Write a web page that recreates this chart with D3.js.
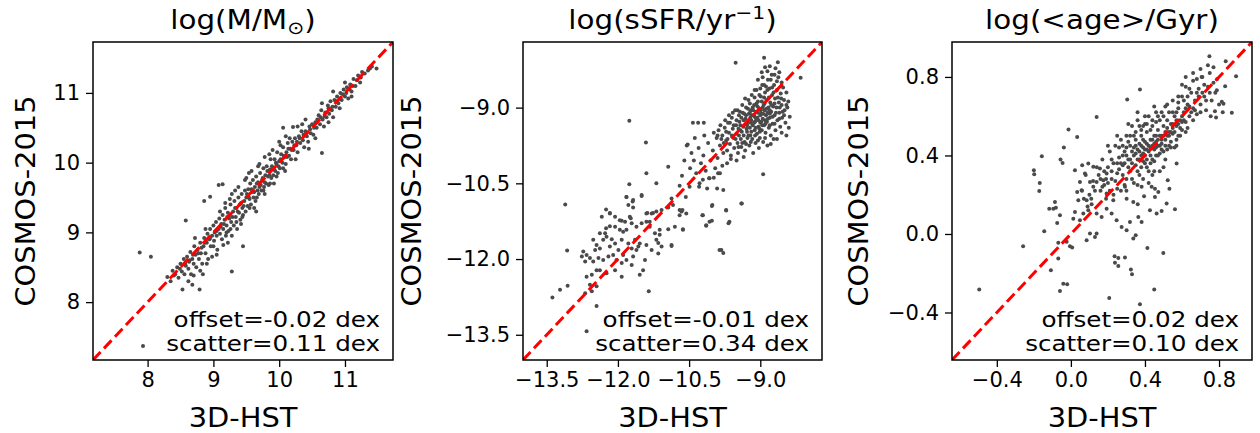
<!DOCTYPE html>
<html><head><meta charset="utf-8">
<script src="https://cdn.jsdelivr.net/npm/d3@7"></script>
<style>
body{margin:0;background:#fff;}
text{font-family:"DejaVu Sans",sans-serif;fill:#000;}
</style></head>
<body><svg id="c" width="1260" height="433"></svg>
<script>
// ---------- data ----------
const titles = ["log(M/M", "log(sSFR/yr", "log(<age>/Gyr)"];
const xLabel = "3D-HST";
const yLabel = "COSMOS-2015";
const domains = [[7.17, 11.73], [-14.0, -7.70], [-0.642, 0.978]];
const tickVals = [[8, 9, 10, 11], [-13.5, -12.0, -10.5, -9.0], [-0.4, 0.0, 0.4, 0.8]];
const offsets = ["offset=-0.02 dex", "offset=-0.01 dex", "offset=0.02 dex"];
const scatters = ["scatter=0.11 dex", "scatter=0.34 dex", "scatter=0.10 dex"];

const massPts = [
[7.88,8.71],[8.05,8.65],[7.93,7.37],[8.58,9.17],[9.28,8.44],[9.45,8.80],[8.53,8.18],[8.79,8.18],[8.86,9.45],[8.95,9.51],[9.08,9.68],[9.14,9.69],[10.06,10.50],[10.21,10.51],[10.65,10.14],[11.48,11.35],[11.41,11.38],
[8.30,8.36],[8.35,8.30],[8.38,8.45],[8.42,8.40],[8.45,8.50],[8.47,8.35],[8.50,8.55],[8.52,8.44],[8.55,8.62],[8.56,8.40],[8.58,8.52],[8.60,8.65],[8.62,8.48],[8.63,8.58],[8.65,8.72],[8.66,8.40],[8.68,8.62],[8.70,8.55],[8.71,8.80],[8.73,8.68],[8.74,8.50],[8.76,8.75],[8.78,8.62],[8.80,8.85],[8.81,8.70],[8.83,8.55],[8.85,8.80],[8.86,8.92],[8.88,8.70],[8.90,8.85],
[8.91,8.98],[8.92,8.62],[8.94,8.90],[8.95,9.05],[8.96,8.80],[8.98,8.95],[9.00,9.10],[9.01,8.88],[9.02,9.00],[9.04,9.15],[9.05,8.95],[9.06,8.75],[9.08,9.05],[9.09,9.20],[9.10,8.98],[9.12,9.12],[9.13,8.90],[9.14,9.25],[9.15,9.05],[9.17,9.18],[9.18,9.35],[9.19,8.95],[9.20,9.10],[9.22,9.28],[9.23,9.02],[9.24,9.20],[9.26,9.40],[9.27,9.15],[9.28,8.95],[9.30,9.30],[9.31,9.10],[9.32,9.45],[9.34,9.22],[9.35,9.35],[9.36,9.05],[9.38,9.50],[9.39,9.28],[9.40,9.40],[9.41,9.18],[9.43,9.55],[9.44,9.35],[9.45,9.25],[9.47,9.45],[9.48,9.60],[9.49,9.30],[9.50,9.50],
[9.52,9.38],[9.53,9.62],[9.55,9.48],[9.56,9.70],[9.57,9.40],[9.59,9.58],[9.60,9.75],[9.61,9.50],[9.63,9.65],[9.64,9.45],[9.65,9.80],[9.67,9.60],[9.68,9.72],[9.69,9.55],[9.71,9.85],[9.72,9.68],[9.73,9.60],[9.75,9.78],[9.76,9.92],[9.77,9.65],[9.79,9.82],[9.80,9.70],[9.81,9.95],[9.83,9.80],[9.84,9.68],[9.86,9.90],[9.87,10.05],[9.88,9.78],[9.90,9.92],[9.91,9.82],[9.93,10.05],[9.94,9.88],[9.96,9.98],[9.97,10.15],[9.98,9.85],[10.00,10.02],[10.01,9.92],[10.03,10.12],[10.05,10.00],[10.06,10.22],[10.08,10.08],[10.10,9.98],[10.11,10.15],[10.13,10.28],[10.15,10.10],[10.17,10.20],[10.18,10.05],
[10.20,10.30],[10.22,10.18],[10.24,10.35],[10.26,10.25],[10.28,10.15],[10.30,10.38],[10.32,10.28],[10.34,10.45],[10.36,10.32],[10.38,10.22],[10.40,10.45],[10.42,10.38],[10.44,10.30],[10.46,10.52],[10.48,10.42],[10.50,10.55],[10.52,10.40],[10.55,10.58],[10.57,10.50],[10.60,10.68],[10.62,10.55],[10.64,10.75],[10.66,10.62],[10.68,10.52],[10.70,10.72],[10.72,10.65],[10.74,10.82],[10.76,10.70],[10.78,10.88],[10.80,10.75],[10.82,10.65],[10.84,10.90],[10.86,10.80],[10.88,10.95],[10.90,10.85],[10.93,11.00],[10.95,10.90],[10.98,11.05],[11.00,10.95],[11.03,11.08],[11.05,10.92],[11.08,11.12],[11.10,11.02],[11.13,11.20],[11.16,11.10],[11.20,11.25],[11.23,11.15],[11.26,11.30],[11.30,11.28],[11.35,11.32],[11.38,11.35],
[9.10,9.30],[9.20,9.00],[9.33,9.60],[9.42,9.12],[9.54,9.85],[9.62,9.35],[9.70,9.98],[9.78,9.55],[9.85,10.12],[9.92,9.70],[10.02,10.25],[10.09,9.88],[10.16,10.35],[10.25,10.05],[10.35,10.55],[10.45,10.20],[9.00,8.80],[8.88,9.05],[8.72,8.92],[9.25,9.48],
[9.05,9.02],[9.11,9.08],[9.16,9.12],[9.21,9.22],[9.25,9.25],[9.29,9.22],[9.33,9.35],[9.37,9.30],[9.42,9.42],[9.46,9.38],[9.51,9.55],[9.54,9.50],[9.58,9.62],[9.62,9.58],[9.66,9.70],[9.70,9.65],[9.74,9.75],[9.78,9.72],[9.82,9.88],[9.85,9.82],[9.89,9.95],[9.92,9.90],[9.95,10.00],[9.99,9.95],[10.02,10.05],[10.07,10.10],[10.12,10.08],[10.14,10.20],[10.19,10.18],[10.23,10.25],[10.27,10.30],[10.31,10.35],[10.37,10.40],[10.41,10.42],[10.47,10.48],[10.53,10.50],[10.58,10.62],[10.63,10.65],[10.69,10.66],[10.75,10.78],[10.81,10.80],[10.87,10.88],[10.92,10.92],[10.97,10.98],[11.02,11.00],[11.07,11.05],[11.12,11.10],[11.18,11.18],[11.24,11.22],[8.95,8.92],[8.87,8.85],[8.82,8.78],[8.77,8.70],[8.69,8.68],[8.64,8.60],[8.57,8.55],[8.49,8.48],[8.40,8.38],[9.26,9.05],[9.35,9.15],[9.44,9.22],[9.55,9.35],[9.66,9.50],[9.76,9.60],[9.86,9.70],[9.96,9.80],[10.06,9.92],[9.18,9.42],[9.28,9.55],[9.38,9.65],[9.48,9.75],[9.58,9.88],[9.68,9.95],[9.78,10.08],[9.90,10.18],[10.00,10.30],[10.10,10.38],[8.62,8.30],[8.70,8.38],[8.68,8.25],[8.80,8.45],[8.84,8.40],[8.90,8.55],[8.98,8.65],[9.05,8.68],[9.15,8.82],[9.22,8.85],[10.55,10.35],[10.75,10.58],[10.92,10.78],[11.10,10.95],[10.65,10.85],[10.82,11.02],[11.00,11.15],[10.40,10.62],[10.28,10.52],[9.50,9.78],[9.65,9.30]
];

const ssfrPts = [
[-9.52,-8.11],[-8.92,-8.01],[-8.63,-8.10],[-8.15,-8.41],[-11.76,-9.26],[-11.41,-9.69],[-8.94,-10.32],[-9.39,-10.90],[-13.11,-10.92],[-13.38,-12.76],[-13.22,-12.61],[-13.06,-12.53],[-12.66,-13.43],[-12.45,-12.93],[-11.35,-12.64],[-9.82,-11.82],[-9.78,-11.88],[-13.07,-11.83],[-10.42,-9.30],[-10.31,-9.30],[-10.19,-9.30],[-10.53,-9.73],[-10.94,-10.17],[-11.40,-10.30],[-11.19,-10.50],[-11.76,-10.52],[-11.82,-10.77],[-11.69,-10.86],[-11.50,-10.75],[-12.17,-11.09],[-11.92,-11.24],[-11.73,-11.19],[-11.38,-11.09],[-11.26,-11.09],[-11.33,-11.26],[-11.12,-11.42],[-11.15,-11.68],[-10.87,-11.74],[-10.94,-11.41],[-10.80,-11.36],[-10.63,-11.41],[-10.70,-11.03],[-10.66,-11.06],[-10.57,-10.77],[-10.49,-10.57],[-10.21,-11.13],[-10.14,-11.34],[-10.02,-10.95],[-10.02,-11.24],[-9.72,-11.04],[-9.67,-11.29],[-10.29,-10.57],[-10.21,-10.43],[-10.07,-10.40],[-9.98,-10.39],[-9.89,-10.30],[-9.91,-10.60],[-9.78,-10.63],
[-12.52,-11.62],[-12.45,-11.72],[-12.38,-11.79],[-12.48,-11.82],[-12.31,-11.62],[-12.24,-11.56],[-12.13,-11.61],[-12.17,-11.75],[-12.06,-11.69],[-11.99,-11.82],[-11.92,-11.62],[-11.89,-11.46],[-11.82,-11.42],[-11.96,-11.42],[-12.06,-11.36],[-12.17,-11.35],[-12.25,-11.39],[-12.38,-11.49],[-12.27,-11.49],[-12.73,-11.85],[-12.66,-11.92],[-12.59,-11.98],[-12.76,-11.95],[-12.69,-12.05],[-12.52,-12.05],[-12.41,-11.98],[-12.31,-12.02],[-12.20,-11.95],[-12.10,-11.92],[-12.03,-12.02],[-11.92,-12.08],[-11.82,-12.02],[-11.89,-11.92],[-11.68,-11.95],[-11.61,-11.82],[-11.57,-11.75],[-11.71,-11.79],[-11.78,-11.69],[-11.64,-11.62],[-11.54,-11.69],[-11.40,-11.72],[-11.29,-11.82],[-11.19,-11.62],[-11.12,-11.52],[-11.22,-11.49],[-11.33,-11.36],[-11.40,-11.26],[-11.50,-11.29],[-11.61,-11.36],[-11.71,-11.29],[-11.75,-11.16],[-11.85,-11.26],[-11.96,-11.23],[-12.06,-11.16],[-12.17,-11.10],[-12.34,-11.16],[-12.25,-11.02],[-11.68,-10.98],[-11.78,-10.93],[-11.82,-10.77],[-11.68,-10.83],[-11.50,-10.73],[-11.40,-11.10],[-11.29,-11.10],[-11.19,-11.06],[-11.08,-11.03],[-10.94,-10.98],[-10.84,-10.93],[-10.87,-10.80],[-10.64,-11.03],[-10.56,-11.10],[-10.70,-11.13],[-10.63,-11.42],[-10.87,-11.72],[-11.08,-11.75],[-11.15,-11.89],[-11.47,-12.22],[-11.54,-12.31],[-11.92,-12.35],[-12.06,-12.22],[-12.24,-12.28],[-12.38,-12.22],[-12.55,-12.31],[-12.66,-12.35],[-9.86,-11.82],[-10.07,-11.26],[-10.14,-11.33],[-10.22,-11.13],[-10.01,-10.93],[-9.65,-11.26],[-9.72,-11.03],[-9.40,-10.90],[-11.43,-12.02],[-11.71,-12.12],[-12.45,-12.22],[-12.59,-12.51],[-12.45,-12.54],[-12.69,-12.68],[-12.55,-12.64],
[-10.55,-9.75],[-10.45,-9.90],[-10.40,-10.05],[-10.30,-9.80],[-10.25,-10.10],[-10.20,-9.95],[-10.15,-10.25],[-10.10,-9.70],[-10.05,-10.05],[-10.00,-9.85],[-9.95,-10.20],[-9.92,-9.60],[-9.90,-10.00],[-9.88,-9.45],[-9.85,-10.30],[-10.35,-10.30],[-10.28,-10.50],[-10.48,-10.20],[-10.60,-10.05],[-10.08,-10.40],[-10.18,-9.55],[-9.98,-9.50],[-10.12,-10.60],[-10.38,-9.60],[-10.65,-10.35],[-10.70,-10.55],
[-9.85,-9.75],[-9.80,-9.55],[-9.78,-9.90],[-9.75,-9.40],[-9.72,-9.65],[-9.70,-9.85],[-9.68,-9.30],[-9.66,-9.50],[-9.64,-9.72],[-9.62,-9.95],[-9.60,-9.20],[-9.58,-9.42],[-9.56,-9.60],[-9.55,-9.80],[-9.53,-9.05],[-9.51,-9.35],[-9.50,-9.52],[-9.48,-9.70],[-9.47,-9.90],[-9.45,-9.15],[-9.44,-9.28],[-9.42,-9.45],[-9.41,-9.62],[-9.40,-9.78],[-9.38,-8.95],[-9.37,-9.10],[-9.36,-9.38],[-9.35,-9.55],[-9.33,-9.68],[-9.32,-9.85],[-9.31,-9.22],[-9.30,-9.00],[-9.28,-9.48],[-9.27,-9.60],[-9.26,-9.30],[-9.25,-8.85],[-9.24,-9.12],[-9.23,-9.75],[-9.22,-9.40],[-9.21,-9.55],[-9.20,-9.05],[-9.19,-9.25],[-9.18,-8.75],[-9.17,-9.62],[-9.16,-9.35],[-9.15,-9.90],[-9.14,-9.15],[-9.13,-8.95],[-9.12,-9.45],[-9.11,-9.28],[-9.10,-9.70],[-9.09,-9.08],[-9.08,-8.65],[-9.07,-9.52],[-9.06,-9.20],[-9.05,-8.88],[-9.04,-9.38],[-9.03,-9.80],[-9.02,-9.02],[-9.01,-9.60],[-9.00,-9.30],[-8.99,-8.78],[-8.98,-9.12],[-8.97,-9.45],[-8.96,-8.55],[-8.95,-9.22],[-8.94,-9.68],[-8.93,-8.95],[-8.92,-9.35],[-8.91,-9.05],[-8.90,-8.70],[-8.89,-9.50],[-8.88,-9.15],[-8.87,-8.85],[-8.86,-9.28],[-8.85,-9.75],[-8.84,-8.45],[-8.83,-9.00],[-8.82,-9.40],[-8.81,-8.62],[-8.80,-9.20],[-8.79,-8.90],[-8.78,-9.55],[-8.77,-9.08],[-8.76,-8.35],[-8.75,-8.75],[-8.74,-9.32],[-8.73,-8.98],[-8.72,-9.62],[-8.71,-8.55],[-8.70,-9.15],[-8.69,-8.82],[-8.68,-9.45],[-8.66,-9.00],[-8.65,-8.65],[-8.64,-9.25],[-8.62,-8.40],[-8.61,-8.90],[-8.60,-9.10],[-8.58,-9.38],[-8.57,-8.72],[-8.55,-8.95],[-8.54,-9.20],[-8.52,-8.60],[-8.50,-8.85],[-8.49,-9.05],[-8.47,-9.30],[-8.45,-8.70],[-8.43,-9.00],[-8.41,-8.88],[-8.38,-9.18],
[-9.30,-9.15],[-9.22,-9.10],[-9.15,-9.05],[-9.05,-9.10],[-8.95,-9.00],[-9.10,-9.40],[-9.00,-9.15],[-8.90,-9.25],[-9.20,-9.30],[-9.28,-9.35],[-9.12,-9.18],[-9.02,-9.42],[-8.98,-9.28],[-9.08,-8.92],[-9.18,-9.15],[-9.35,-9.25],[-9.42,-9.35],[-8.85,-9.10],[-8.92,-8.80],[-9.25,-9.55],[-9.45,-9.55],[-9.38,-9.70],[-8.80,-9.05],[-8.72,-8.70],[-9.00,-8.62],[-9.12,-8.80],[-8.88,-8.58],[-8.78,-8.45],[-8.95,-8.40],[-8.85,-8.28],[-8.70,-8.35],
[-9.50,-9.25],[-9.46,-9.42],[-9.43,-9.08],[-9.39,-9.48],[-9.34,-9.12],[-9.29,-9.42],[-9.26,-9.02],[-9.21,-9.20],[-9.19,-9.48],[-9.16,-9.00],[-9.13,-9.30],[-9.11,-9.55],[-9.09,-9.22],[-9.06,-8.98],[-9.04,-9.25],[-9.01,-9.48],[-8.99,-9.05],[-8.97,-8.88],[-8.96,-9.35],[-8.94,-9.12],[-8.91,-8.92],[-8.89,-9.32],[-8.87,-9.02],[-8.84,-9.22],[-8.82,-8.80],[-8.80,-9.12],[-8.77,-8.95],[-8.74,-9.18],[-8.70,-8.92],[-8.67,-9.10],[-8.63,-8.80],[-8.59,-9.00],[-8.56,-8.82],[-8.53,-9.08],[-9.56,-9.35],[-9.60,-9.55],[-9.64,-9.30],[-9.69,-9.62],[-9.72,-9.48],[-9.77,-9.70],[-9.82,-9.62],[-9.52,-9.62],[-9.46,-9.78],[-9.30,-9.72],[-9.20,-9.68],[-9.05,-9.65],[-8.90,-9.60],[-8.80,-9.35],[-8.70,-9.32],[-8.60,-9.22],[-8.50,-9.15],[-8.45,-8.95],[-8.55,-8.50],[-8.65,-8.48],[-8.75,-8.60],[-8.85,-8.65],[-8.92,-8.55],[-9.02,-8.75],[-9.12,-8.65],[-9.22,-8.92],[-9.32,-8.82],[-9.40,-9.20],[-9.48,-9.05],[-9.58,-9.10],[-9.66,-9.15],[-9.74,-9.25],[-9.84,-9.35],[-9.90,-9.55],[-8.90,-8.20],[-8.80,-8.18],[-8.68,-8.22],[-8.60,-8.30],[-8.97,-8.30],[-9.05,-8.45],[-8.40,-9.40],[-8.45,-9.55],[-8.55,-9.50],[-8.65,-9.62],[-8.78,-9.72],[-9.62,-10.02],[-9.50,-10.05],[-9.70,-10.10],[-9.35,-9.98],[-9.80,-10.15]
];

const agePts = [
[-0.495,-0.283],[-0.258,-0.062],[0.748,0.905],[0.836,0.880],[0.892,0.803],[0.869,0.617],[0.373,0.736],[0.304,0.685],[0.139,0.596],[-0.013,0.532],[0.034,0.494],[-0.157,0.396],[-0.200,0.325],[-0.198,0.304],[-0.168,0.260],[-0.171,0.219],[-0.038,0.440],[-0.056,0.379],[-0.045,0.362],[-0.086,0.163],[-0.081,0.134],[-0.117,0.129],[-0.095,0.129],[-0.059,0.095],[-0.144,0.014],[-0.074,0.056],[-0.068,-0.045],[-0.023,-0.040],[-0.005,-0.062],[0.007,-0.069],[-0.068,-0.125],[-0.108,-0.185],[-0.041,-0.253],[-0.020,-0.256],[-0.059,-0.290],[0.236,-0.113],[0.256,-0.122],[0.292,-0.120],[0.238,-0.147],[0.256,-0.163],[0.324,-0.181],[0.330,-0.205],[0.207,-0.326],[0.373,-0.358],[0.450,-0.283],[0.499,-0.097],[0.413,-0.071],[0.337,-0.023],[0.350,-0.006],[0.562,0.126],[0.523,0.274],[0.532,0.231],[0.571,0.359],[0.755,0.600],[0.778,0.625],[0.784,0.593],[0.833,0.752],[0.815,0.673],[0.824,0.664],[0.788,0.732],[0.706,0.800],
[0.085,0.172],[0.112,0.152],[0.094,0.121],[0.139,0.104],[0.166,0.087],[0.193,0.129],[0.220,0.104],[0.247,0.070],[0.274,0.036],[0.301,0.019],[0.319,0.061],[0.364,0.087],[0.382,0.061],[0.427,0.121],[0.463,0.104],[0.490,0.117],[0.454,0.189],[0.517,0.155],[0.229,0.172],[0.193,0.206],[0.121,0.240],[0.058,0.223],[0.034,0.214],[0.040,0.172],[0.076,0.308],[0.022,0.325],[0.049,0.265],[0.103,0.265],[0.139,0.265],[0.175,0.274],[0.193,0.308],[0.157,0.333],[0.121,0.342],[0.094,0.359],[0.061,0.350],[0.130,-0.015],[0.085,-0.032],[0.103,0.002],[0.139,0.002],[0.292,0.240],[0.301,0.180],[0.337,0.163],[0.361,0.151],[0.382,0.240],[0.395,0.192],[0.436,0.240],[0.454,0.231],[0.472,0.214],[0.049,0.070],[0.067,0.104],[0.022,0.112],[0.013,0.078],
[0.15,0.30],[0.17,0.38],[0.18,0.25],[0.20,0.34],[0.21,0.42],[0.22,0.28],[0.23,0.36],[0.24,0.45],[0.25,0.31],[0.26,0.39],[0.27,0.22],[0.27,0.48],[0.28,0.35],[0.29,0.42],[0.30,0.28],[0.30,0.50],[0.31,0.38],[0.32,0.45],[0.32,0.32],[0.33,0.55],[0.34,0.40],[0.34,0.26],[0.35,0.48],[0.35,0.35],[0.36,0.43],[0.36,0.58],[0.37,0.38],[0.37,0.30],[0.38,0.50],[0.38,0.45],[0.39,0.41],[0.39,0.55],[0.40,0.36],[0.40,0.47],[0.41,0.52],[0.41,0.43],[0.42,0.60],[0.42,0.32],[0.43,0.48],[0.43,0.40],[0.44,0.55],[0.44,0.45],[0.45,0.50],[0.45,0.37],[0.46,0.62],[0.46,0.44],[0.47,0.53],[0.47,0.48],[0.48,0.41],[0.48,0.58],[0.49,0.50],[0.49,0.46],[0.50,0.55],[0.50,0.34],[0.51,0.65],[0.51,0.48],[0.52,0.58],[0.52,0.43],[0.53,0.52],[0.53,0.62],[0.54,0.47],[0.54,0.56],[0.55,0.68],[0.55,0.51],[0.56,0.60],[0.56,0.44],[0.57,0.55],[0.58,0.64],[0.58,0.50],[0.59,0.58],[0.60,0.70],[0.60,0.53],[0.61,0.62],[0.62,0.57],[0.62,0.75],[0.63,0.66],[0.64,0.60],[0.65,0.72],[0.66,0.64],[0.66,0.78],[0.67,0.68],[0.68,0.61],[0.69,0.74],[0.70,0.66],[0.71,0.80],[0.72,0.70],[0.73,0.63],[0.74,0.75],[0.76,0.68],[0.78,0.72],[0.80,0.66],[0.82,0.62],
[0.33,0.42],[0.36,0.38],[0.38,0.34],[0.40,0.40],[0.42,0.45],[0.44,0.38],[0.46,0.50],[0.48,0.45],[0.50,0.42],[0.35,0.45],[0.31,0.47],[0.29,0.36],[0.26,0.33],[0.39,0.48],[0.43,0.53],[0.47,0.40],[0.52,0.50],[0.55,0.56],[0.57,0.62],[0.53,0.45],[0.45,0.43],[0.41,0.38],[0.37,0.46],[0.28,0.30],[0.24,0.27],[0.20,0.26],[0.19,0.18],[0.23,0.20],[0.30,0.22],[0.36,0.25],[0.44,0.30],[0.48,0.32],[0.42,0.26],[0.60,0.60],[0.63,0.70],[0.68,0.72],[0.58,0.67],[0.50,0.60],[0.46,0.57],[0.40,0.56],[0.34,0.50],[0.30,0.44],[0.26,0.44],[0.22,0.38],[0.18,0.32],[0.16,0.22],[0.14,0.34],[0.12,0.27],[0.10,0.20],[0.08,0.30],[0.06,0.22],
[0.32,0.38],[0.34,0.44],[0.35,0.41],[0.37,0.42],[0.38,0.40],[0.39,0.44],[0.40,0.43],[0.41,0.46],[0.42,0.42],[0.43,0.44],[0.44,0.48],[0.45,0.46],[0.46,0.47],[0.47,0.45],[0.48,0.50],[0.49,0.48],[0.50,0.50],[0.51,0.52],[0.52,0.54],[0.53,0.50],[0.54,0.52],[0.55,0.54],[0.56,0.52],[0.57,0.58],[0.58,0.56],[0.59,0.54],[0.60,0.57],[0.61,0.58],[0.62,0.64],[0.64,0.65],[0.65,0.62],[0.67,0.63],[0.30,0.40],[0.28,0.40],[0.27,0.36],[0.25,0.36],[0.31,0.34],[0.33,0.36],[0.36,0.32],[0.39,0.37],[0.41,0.34],[0.43,0.36],[0.46,0.40],[0.49,0.43],[0.51,0.45],[0.54,0.44],[0.57,0.48],[0.59,0.50],[0.63,0.54],[0.35,0.52],[0.38,0.53],[0.41,0.56],[0.44,0.58],[0.47,0.60],[0.49,0.62],[0.52,0.66],[0.55,0.62],[0.58,0.70],[0.61,0.68],[0.64,0.74],[0.69,0.70],[0.71,0.72],[0.73,0.68],[0.75,0.72],[0.70,0.62],[0.66,0.58],[0.62,0.52],[0.57,0.45],[0.51,0.38],[0.45,0.32],[0.39,0.28],[0.33,0.28],[0.29,0.25],[0.25,0.23],[0.21,0.22],[0.22,0.32],[0.19,0.28],[0.17,0.24],[0.16,0.28],[0.13,0.22],[0.11,0.18],[0.09,0.14],[0.07,0.18],[0.28,0.45],[0.32,0.50],[0.37,0.55],[0.40,0.60],[0.45,0.65],[0.36,0.62],[0.31,0.56],[0.25,0.50],[0.20,0.45],[0.77,0.77],[0.79,0.79],[0.75,0.82],[0.72,0.76],[0.68,0.79],[0.70,0.84],[0.66,0.82],[0.62,0.80],[0.60,0.76],[0.74,0.86],[0.77,0.85]
];

const panelData = [massPts, ssfrPts, agePts];

// ---------- layout ----------
const svg = d3.select("#c");
const boxes = [{l:93,r:393},{l:523,r:822},{l:952,r:1252}];
const topY = 42, botY = 360;
const fmts = [d3.format("d"), d3.format(".1f"), d3.format(".1f")];

function stext(g, tx, ty, sx, fs, anchor, extra) {
  return g.append("text")
    .attr("transform", `translate(${tx},${ty}) ${extra || ""} scale(${sx},1)`)
    .attr("text-anchor", anchor).attr("font-size", fs);
}

boxes.forEach((b, i) => {
  const dom = domains[i];
  const x = d3.scaleLinear().domain(dom).range([b.l, b.r]);
  const y = d3.scaleLinear().domain(dom).range([botY, topY]);
  const g = svg.append("g");

  const cid = "clip" + i;
  svg.append("clipPath").attr("id", cid).append("rect")
    .attr("x", b.l).attr("y", topY).attr("width", b.r - b.l).attr("height", botY - topY);

  g.append("g").attr("clip-path", `url(#${cid})`)
    .selectAll("circle").data(panelData[i]).join("circle")
    .attr("cx", d => x(d[0])).attr("cy", d => y(d[1]))
    .attr("r", 2.0).attr("fill", "#4a4a4a");

  g.append("line").attr("clip-path", `url(#${cid})`)
    .attr("x1", x(dom[0])).attr("y1", y(dom[0]))
    .attr("x2", x(dom[1])).attr("y2", y(dom[1]))
    .attr("stroke", "#ff0000").attr("stroke-width", 3)
    .attr("stroke-dasharray", "11,5");

  const xa = d3.axisBottom(x).tickValues(tickVals[i]).tickFormat(fmts[i]).tickSize(7).tickPadding(5).tickSizeOuter(0);
  const ya = d3.axisLeft(y).tickValues(tickVals[i]).tickFormat(fmts[i]).tickSize(7).tickPadding(6).tickSizeOuter(0);
  const gx = g.append("g").attr("transform", `translate(0,${botY})`).call(xa);
  const gy = g.append("g").attr("transform", `translate(${b.l},0)`).call(ya);
  [gx, gy].forEach(a => {
    a.select(".domain").remove();
    a.selectAll(".tick line").attr("stroke", "#000").attr("stroke-width", 1.3);
    a.selectAll(".tick text").attr("font-family", "DejaVu Sans").attr("font-size", 21).attr("fill", "#000");
  });

  g.append("rect").attr("x", b.l).attr("y", topY).attr("width", b.r - b.l).attr("height", botY - topY)
    .attr("fill", "none").attr("stroke", "#000").attr("stroke-width", 1.5);

  const cx = (b.l + b.r) / 2;
  const t = stext(g, cx, 28.5, 1.13, 26, "middle");
  if (i === 0) {
    t.append("tspan").text(titles[0]);
    t.append("tspan").attr("dy", 5).attr("font-size", 18).text("\u2299");
    t.append("tspan").attr("dy", -5).text(")");
  } else if (i === 1) {
    t.append("tspan").text(titles[1]);
    t.append("tspan").attr("dy", -10).attr("font-size", 18).text("\u22121");
    t.append("tspan").attr("dy", 10).text(")");
  } else {
    t.text(titles[2]);
  }

  stext(g, cx, 427, 1.07, 27, "middle").text(xLabel);
  const ylx = [35, 421, 868][i];
  stext(g, ylx, (topY + botY) / 2, 1.07, 27, "middle", "rotate(-90)").text(yLabel);

  stext(g, b.r - 13, 327, 1.2, 20.5, "end").text(offsets[i]);
  stext(g, b.r - 13, 351, 1.2, 20.5, "end").text(scatters[i]);
});
</script></body></html>
